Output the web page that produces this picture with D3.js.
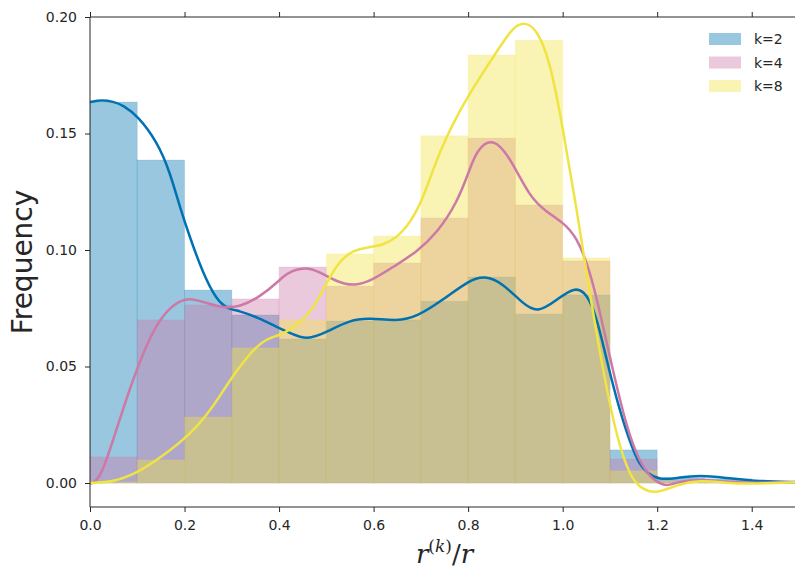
<!DOCTYPE html>
<html><head><meta charset="utf-8">
<script src="https://cdn.jsdelivr.net/npm/d3@7"></script>
<style>body{margin:0;background:#fff}svg{display:block}</style>
</head><body>
<svg id="c" width="795" height="572"></svg>
<script>
// ---- data ----
const binStarts = [0,0.1,0.2,0.3,0.4,0.5,0.6,0.7,0.8,0.9,1.0,1.1,1.2,1.3,1.4];
const binWidth = 0.1;
const seriesNames = ["k=2","k=4","k=8"];
const histK2 = [0.1635,0.1386,0.0828,0.0721,0.0618,0.0695,0.0700,0.0780,0.0884,0.0725,0.0807,0.0142,0.0022,0.0018,0.0005];
const histK4 = [0.0112,0.0700,0.0764,0.0790,0.0927,0.0845,0.0944,0.1137,0.1480,0.1193,0.0953,0.0103,0.0010,0.0010,0.0003];
const histK8 = [0.0005,0.0099,0.0283,0.0580,0.0700,0.0983,0.1060,0.1490,0.1837,0.1900,0.0966,0.0052,0.0008,0.0008,0.0003];
const kdeK2 = [[0,0.1635],[0.025,0.1645],[0.049,0.1637],[0.07,0.1622],[0.101,0.1575],[0.142,0.1465],[0.169,0.1335],[0.19,0.1185],[0.211,0.1056],[0.239,0.090],[0.268,0.0785],[0.29,0.0749],[0.317,0.0738],[0.353,0.0712],[0.40,0.0665],[0.423,0.0644],[0.459,0.0612],[0.501,0.0648],[0.55,0.070],[0.592,0.0708],[0.649,0.0695],[0.691,0.0712],[0.746,0.0785],[0.803,0.0871],[0.835,0.0890],[0.873,0.0858],[0.915,0.0771],[0.947,0.0728],[0.987,0.0785],[1.025,0.0843],[1.051,0.0815],[1.072,0.0712],[1.093,0.0528],[1.12,0.0313],[1.148,0.0142],[1.163,0.0080],[1.178,0.0043],[1.205,0.0013],[1.24,0.0021],[1.29,0.0034],[1.347,0.0021],[1.402,0.0009],[1.49,0.0004],[1.52,0.0003]];
const kdeK4 = [[0,-0.0004],[0.021,0.0013],[0.049,0.0185],[0.085,0.0412],[0.12,0.060],[0.154,0.0725],[0.19,0.0785],[0.215,0.0792],[0.247,0.0773],[0.281,0.0751],[0.317,0.0755],[0.359,0.0798],[0.402,0.0871],[0.416,0.0901],[0.455,0.0929],[0.486,0.0906],[0.522,0.0863],[0.56,0.0844],[0.598,0.0871],[0.641,0.0927],[0.691,0.0991],[0.734,0.1073],[0.776,0.120],[0.803,0.1343],[0.818,0.1429],[0.852,0.1485],[0.888,0.140],[0.93,0.1227],[0.966,0.1163],[1.0,0.112],[1.03,0.1056],[1.057,0.0914],[1.078,0.0742],[1.106,0.0485],[1.135,0.024],[1.163,0.0086],[1.19,0.0013],[1.22,-0.0017],[1.24,0.0004],[1.29,0.0017],[1.347,0.0004],[1.40,0.0],[1.49,0.0004],[1.52,0.0004]];
const kdeK8 = [[0,0.0],[0.049,0.0004],[0.099,0.0043],[0.142,0.0099],[0.19,0.0172],[0.226,0.024],[0.26,0.0326],[0.296,0.0442],[0.332,0.0541],[0.366,0.0614],[0.402,0.0635],[0.423,0.0657],[0.459,0.0712],[0.486,0.0798],[0.522,0.0944],[0.556,0.100],[0.592,0.1013],[0.619,0.1021],[0.649,0.1052],[0.677,0.1116],[0.704,0.1215],[0.74,0.1429],[0.782,0.160],[0.825,0.1742],[0.867,0.1871],[0.894,0.1955],[0.92,0.1980],[0.945,0.1948],[0.973,0.1815],[1.0,0.1528],[1.03,0.1172],[1.057,0.0815],[1.085,0.0485],[1.114,0.0197],[1.142,0.0026],[1.169,-0.003],[1.2,-0.0045],[1.24,-0.0009],[1.29,0.0013],[1.347,0.0],[1.40,-0.0004],[1.49,0.0004],[1.52,0.0004]];
const xTicks = [0.0,0.2,0.4,0.6,0.8,1.0,1.2,1.4];
const yTicks = [0.00,0.05,0.10,0.15,0.20];

// ---- layout ----
const colors = ["#0072B2","#CC79A7","#F0E442"];
const hists = [histK2, histK4, histK8];
const kdes = [kdeK2, kdeK4, kdeK8];
const L = 90, R = 799, T = 17, B = 507;
const x = d3.scaleLinear().domain([0,1.5]).range([L,R]);
const y = d3.scaleLinear().domain([-0.0103,0.20]).range([B,T]);
const svg = d3.select("#c");
const font = "DejaVu Sans, sans-serif";
const axisColor = "#262626";

svg.append("defs").append("clipPath").attr("id","clip")
  .append("rect").attr("x",L).attr("y",T).attr("width",R-L).attr("height",B-T);
const plot = svg.append("g").attr("clip-path","url(#clip)");

hists.forEach((h,i)=>{
  plot.append("g").selectAll("rect").data(binStarts.map((s,j)=>({s,v:h[j]}))).join("rect")
    .attr("x",d=>x(d.s)).attr("width",d=>x(d.s+binWidth)-x(d.s))
    .attr("y",d=>y(d.v)).attr("height",d=>y(0)-y(d.v))
    .attr("fill",colors[i]).attr("fill-opacity",0.4)
    .attr("stroke",colors[i]).attr("stroke-opacity",0.15).attr("stroke-width",1);
});
const line = d3.line().x(d=>x(d[0])).y(d=>y(d[1])).curve(d3.curveBasis);
kdes.forEach((k,i)=>{
  plot.append("path").attr("d",line(k)).attr("fill","none")
    .attr("stroke",colors[i]).attr("stroke-width",2.5).attr("stroke-linejoin","round");
});

// axes
const xb = svg.append("g").attr("transform",`translate(0,${B})`)
  .call(d3.axisBottom(x).tickValues(xTicks).tickSize(5).tickPadding(8).tickFormat(d3.format(".1f")));
const xt = svg.append("g").attr("transform",`translate(0,${T})`)
  .call(d3.axisTop(x).tickValues(xTicks).tickSize(5).tickFormat(""));
const yl = svg.append("g").attr("transform",`translate(${L},0)`)
  .call(d3.axisLeft(y).tickValues(yTicks).tickSize(5).tickPadding(8).tickFormat(d3.format(".2f")));
[xb,xt,yl].forEach(g=>{
  g.select(".domain").attr("stroke",axisColor).attr("stroke-width",1);
  g.selectAll(".tick line").attr("stroke",axisColor).attr("stroke-width",1);
  g.selectAll("text").attr("font-family",font).attr("font-size",14).attr("fill",axisColor);
});
xb.select(".domain").attr("d",`M${L},0H${R}`);
xt.select(".domain").attr("d",`M${L},0H${R}`);
yl.select(".domain").attr("d",`M0,${B}V${T}`);

// y label
svg.append("text").attr("transform",`translate(32,${(T+B)/2}) rotate(-90)`)
  .attr("text-anchor","middle").attr("font-family",font).attr("font-size",28)
  .attr("fill",axisColor).text("Frequency");

// x label r^(k)/r
const xl = svg.append("text").attr("x",x(0.75)).attr("y",563).attr("text-anchor","middle")
  .attr("font-family","DejaVu Serif, serif").attr("font-size",26).attr("fill",axisColor);
xl.append("tspan").attr("font-style","italic").text("r");
xl.append("tspan").attr("dy",-11).attr("font-size",17).text("(");
xl.append("tspan").attr("font-size",17).attr("font-style","italic").text("k");
xl.append("tspan").attr("font-size",17).text(")");
xl.append("tspan").attr("dy",11).text("/");
xl.append("tspan").attr("font-style","italic").text("r");

// legend
const lg = svg.append("g");
seriesNames.forEach((n,i)=>{
  const cy = 39 + i*23.5;
  lg.append("rect").attr("x",709).attr("y",cy-6).attr("width",32).attr("height",12)
    .attr("fill",colors[i]).attr("fill-opacity",0.4);
  lg.append("text").attr("x",754).attr("y",cy+5).attr("font-family",font).attr("font-size",14)
    .attr("fill",axisColor).text(n);
});
</script>
</body></html>
